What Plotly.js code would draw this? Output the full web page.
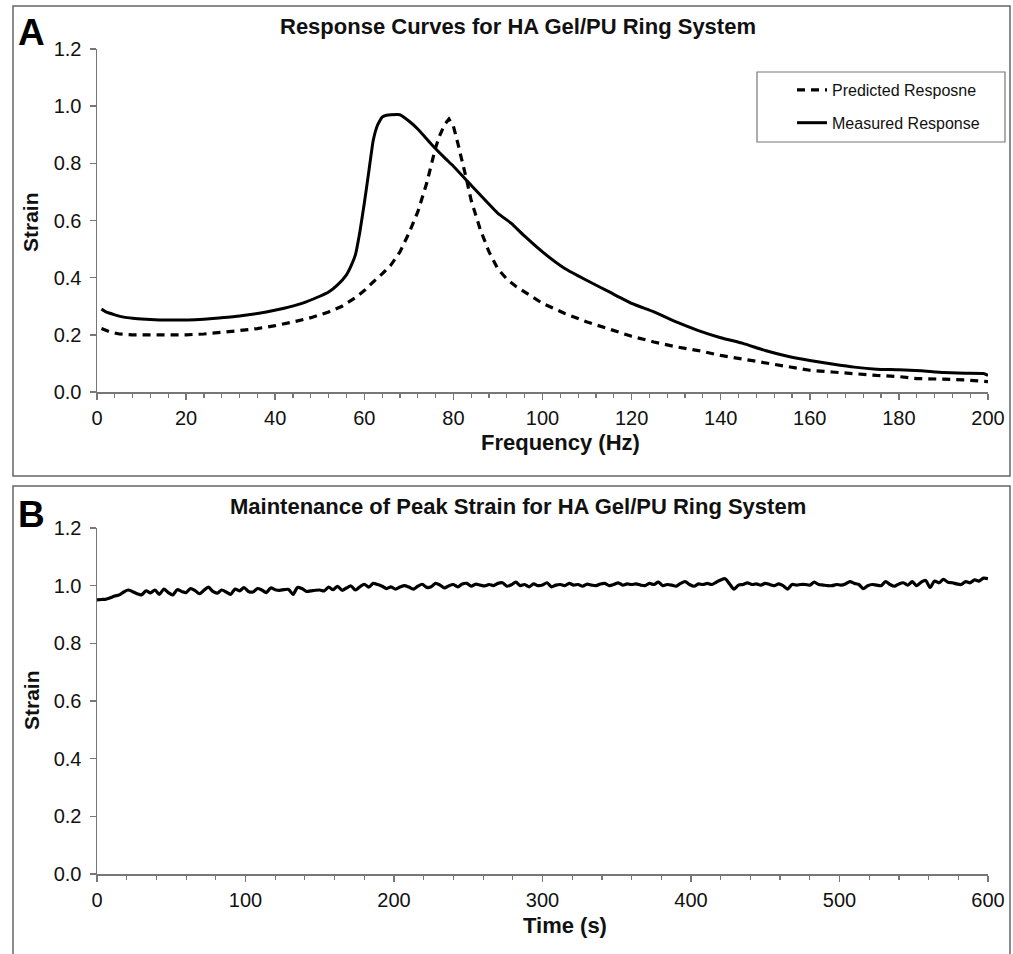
<!DOCTYPE html>
<html>
<head>
<meta charset="utf-8">
<script src="https://cdn.plot.ly/plotly-3.0.1.min.js"></script>
<style>html,body{margin:0;padding:0;background:#fff;}#chart{width:1013px;height:954px;}</style>
</head>
<body>
<div id="chart"></div>
<script>
// ---- Panel A: frequency response ----
const freqPredicted = [1,3,5,8,12,16,20,24,28,32,36,40,44,48,52,55,58,60,62,64,66,68,70,72,74,75,76,77,78,79,80,81,82,83,84,86,88,90,92,94,97,100,105,110,115,120,125,130,135,140,145,150,152,160,165,170,175,180,184,190,195,200];
const strainPredicted = [0.222,0.21,0.203,0.2,0.2,0.2,0.2,0.203,0.208,0.215,0.222,0.232,0.245,0.26,0.28,0.3,0.33,0.355,0.385,0.413,0.445,0.49,0.555,0.63,0.73,0.79,0.855,0.9,0.935,0.955,0.93,0.87,0.81,0.74,0.67,0.57,0.49,0.43,0.395,0.37,0.34,0.31,0.275,0.245,0.22,0.195,0.175,0.158,0.145,0.128,0.115,0.102,0.095,0.076,0.07,0.063,0.058,0.054,0.047,0.045,0.042,0.036];

const freqMeasured = [1,2,4,6,8,10,14,18,22,26,30,34,38,42,46,50,52,54,56,57,58,59,60,61,62,63,64,65,66,68,70,72,75,78,80,83,86,90,93,96,100,105,110,115,120,125,130,135,140,145,150,155,160,165,170,175,180,185,190,195,199,200];
const strainMeasured = [0.29,0.28,0.27,0.262,0.258,0.255,0.252,0.252,0.253,0.257,0.262,0.27,0.28,0.293,0.31,0.335,0.35,0.375,0.41,0.44,0.48,0.56,0.66,0.77,0.88,0.935,0.962,0.968,0.97,0.97,0.948,0.92,0.868,0.82,0.79,0.74,0.69,0.625,0.59,0.545,0.49,0.432,0.39,0.35,0.31,0.28,0.245,0.215,0.19,0.17,0.145,0.125,0.11,0.098,0.087,0.08,0.078,0.074,0.068,0.066,0.065,0.058];

// ---- Panel B: peak strain over time (sampled every 3 s) ----
const timeStart = 0, timeStep = 3;
const strainPeak = [
0.951,0.952,0.953,0.958,0.964,0.968,0.978,0.985,0.979,0.972,
0.968,0.982,0.975,0.985,0.970,0.988,0.976,0.968,0.986,0.980,
0.976,0.990,0.983,0.972,0.984,0.995,0.980,0.974,0.985,0.978,
0.970,0.988,0.982,0.993,0.980,0.978,0.990,0.985,0.976,0.992,
0.986,0.984,0.986,0.987,0.970,0.994,0.990,0.980,0.982,0.984,
0.985,0.982,0.995,0.986,0.998,0.984,0.992,0.999,0.985,0.996,
1.005,0.995,1.008,1.004,0.998,0.990,0.996,0.988,0.995,1.000,
0.995,0.988,0.998,1.005,0.994,0.996,1.008,1.002,0.992,1.000,
1.004,0.996,1.006,1.008,0.998,1.005,1.002,0.999,1.004,1.000,
1.008,1.010,0.998,1.003,1.012,1.000,1.004,0.996,1.006,1.000,
1.002,1.010,0.996,1.002,1.004,1.000,1.008,1.002,1.004,0.998,
1.005,1.002,1.000,1.006,1.008,1.000,1.004,1.010,1.002,1.006,
1.004,1.006,1.002,1.000,1.008,1.004,1.012,1.000,1.004,1.002,
0.998,1.008,1.014,1.004,0.998,1.006,1.004,1.008,1.004,1.012,
1.020,1.024,1.006,0.988,1.002,1.004,1.010,1.004,1.006,1.002,
1.008,1.004,1.000,1.006,1.000,0.988,1.004,1.002,1.004,1.004,
1.002,1.012,1.004,1.002,1.000,1.000,1.004,1.002,1.006,1.014,
1.008,1.004,0.990,1.000,1.004,1.002,1.000,1.014,1.004,0.998,
1.006,1.010,1.002,1.014,1.000,1.012,1.018,0.994,1.016,1.010,
1.022,1.012,1.010,1.006,1.004,1.014,1.010,1.020,1.016,1.026,
1.024];
const timeSec = strainPeak.map((_, i) => timeStart + i * timeStep);

const titleA = 'Response Curves for HA Gel/PU Ring System';
const titleB = 'Maintenance of Peak Strain for HA Gel/PU Ring System';
const legendNames = ['Predicted Resposne', 'Measured Response'];

// ---- layout helpers (pixel -> paper) ----
const W = 1013, H = 954;
const px = v => v / W;
const py = v => 1 - v / H;
const FONT = 'Arial, "Liberation Sans", Helvetica, sans-serif';
const AXC = '#777777';

const traces = [
  {x: freqPredicted, y: strainPredicted, xaxis: 'x', yaxis: 'y', mode: 'lines', name: legendNames[0], legendgroup: 'p',
   line: {color: '#000', width: 3.2, dash: '8px,6px'}},
  {x: freqMeasured, y: strainMeasured, xaxis: 'x', yaxis: 'y', mode: 'lines', name: legendNames[1], legendgroup: 'm',
   line: {color: '#000', width: 3, shape: 'spline', smoothing: 0.4}},
  {x: timeSec, y: strainPeak, xaxis: 'x2', yaxis: 'y2', mode: 'lines', showlegend: false,
   line: {color: '#000', width: 3.2, shape: 'spline', smoothing: 0.8}}
];

const axisCommon = {
  showline: true, linecolor: AXC, linewidth: 1.5, showgrid: false, zeroline: false,
  ticks: 'outside', ticklen: 6, tickwidth: 1.5, tickcolor: AXC,
  tickfont: {family: FONT, size: 20, color: '#111'}, fixedrange: true
};
const yCommon = Object.assign({}, axisCommon, {range: [0, 1.2], dtick: 0.2, tick0: 0, tickformat: '.1f', ticklabelstandoff: 4});

const layout = {
  width: W, height: H, margin: {l: 0, r: 0, t: 0, b: 0},
  paper_bgcolor: '#fff', plot_bgcolor: 'rgba(0,0,0,0)',
  font: {family: FONT, color: '#111'},
  xaxis: Object.assign({}, axisCommon, {domain: [px(97), px(988)], range: [0, 200], dtick: 20, tick0: 0, anchor: 'y',
    ticklabelstandoff: 1, minor: {dtick: 4, ticklen: 4, tickcolor: AXC, tickwidth: 1.2, ticks: 'outside', showgrid: false}}),
  yaxis: Object.assign({}, yCommon, {domain: [py(392), py(49)], anchor: 'x'}),
  xaxis2: Object.assign({}, axisCommon, {domain: [px(97), px(988)], range: [0, 600], dtick: 100, tick0: 0, anchor: 'y2',
    ticklabelstandoff: 1, minor: {dtick: 20, ticklen: 4, tickcolor: AXC, tickwidth: 1.2, ticks: 'outside', showgrid: false}}),
  yaxis2: Object.assign({}, yCommon, {domain: [py(874), py(528)], anchor: 'x2'}),
  showlegend: true,
  legend: {x: px(792), y: py(73), xanchor: 'left', yanchor: 'top', bgcolor: 'rgba(0,0,0,0)', borderwidth: 0,
    font: {family: FONT, size: 16, color: '#111'}, traceorder: 'grouped', tracegroupgap: 9, itemwidth: 30},
  shapes: [
    {type: 'rect', xref: 'paper', yref: 'paper', x0: px(13), x1: px(1010), y0: py(476), y1: py(6), line: {color: '#666', width: 1.5}},
    {type: 'rect', xref: 'paper', yref: 'paper', x0: px(13), x1: px(1010), y0: py(970), y1: py(486), line: {color: '#666', width: 1.5}},
    {type: 'rect', xref: 'paper', yref: 'paper', x0: px(757), x1: px(1005), y0: py(142), y1: py(72), line: {color: '#777', width: 1.2}}
  ],
  annotations: [
    {text: '<b>A</b>', x: px(31), y: py(32), xref: 'paper', yref: 'paper', showarrow: false, xanchor: 'center', yanchor: 'middle', font: {size: 37, family: FONT, color: '#000'}},
    {text: '<b>B</b>', x: px(31), y: py(514), xref: 'paper', yref: 'paper', showarrow: false, xanchor: 'center', yanchor: 'middle', font: {size: 37, family: FONT, color: '#000'}},
    {text: '<b>' + titleA + '</b>', x: px(518), y: py(26), xref: 'paper', yref: 'paper', showarrow: false, xanchor: 'center', yanchor: 'middle', font: {size: 22, family: FONT, color: '#111'}},
    {text: '<b>' + titleB + '</b>', x: px(518), y: py(506), xref: 'paper', yref: 'paper', showarrow: false, xanchor: 'center', yanchor: 'middle', font: {size: 22, family: FONT, color: '#111'}},
    {text: '<b>Strain</b>', x: px(31), y: py(222), xref: 'paper', yref: 'paper', showarrow: false, textangle: -90, xanchor: 'center', yanchor: 'middle', font: {size: 21, family: FONT, color: '#111'}},
    {text: '<b>Strain</b>', x: px(31), y: py(700), xref: 'paper', yref: 'paper', showarrow: false, textangle: -90, xanchor: 'center', yanchor: 'middle', font: {size: 21, family: FONT, color: '#111'}},
    {text: '<b>Frequency (Hz)</b>', x: px(560), y: py(442), xref: 'paper', yref: 'paper', showarrow: false, xanchor: 'center', yanchor: 'middle', font: {size: 22, family: FONT, color: '#111'}},
    {text: '<b>Time (s)</b>', x: px(565), y: py(925), xref: 'paper', yref: 'paper', showarrow: false, xanchor: 'center', yanchor: 'middle', font: {size: 22, family: FONT, color: '#111'}}
  ]
};

Plotly.newPlot('chart', traces, layout, {displayModeBar: false, staticPlot: true});
</script>
</body>
</html>
